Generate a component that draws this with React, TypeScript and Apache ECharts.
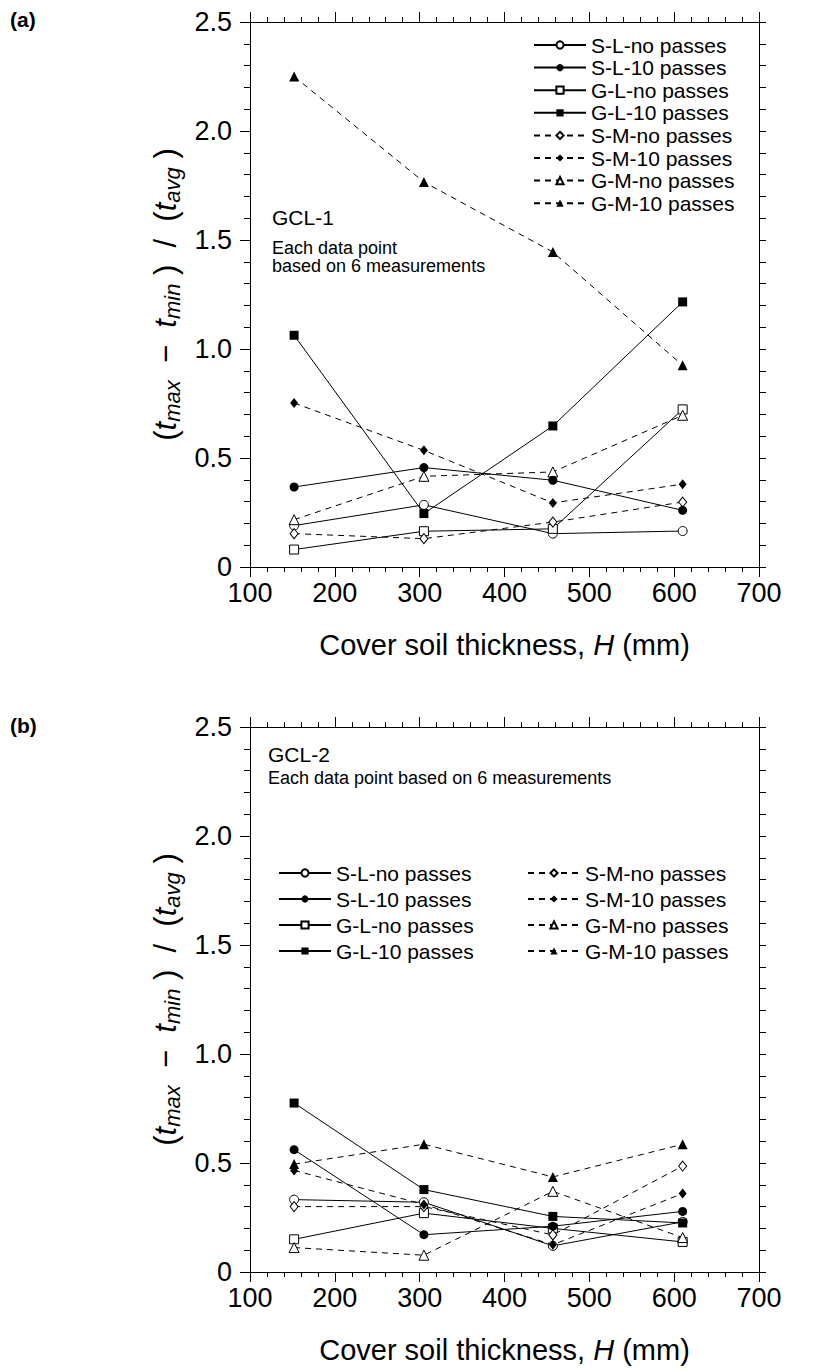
import React, { useEffect, useRef } from 'react';
import * as echarts from 'echarts';

// ---------- data ----------
const thicknessMM = [152, 305, 457, 610];
const xTicks = [100, 200, 300, 400, 500, 600, 700];
const yTicks = [0, 0.5, 1.0, 1.5, 2.0, 2.5];

const seriesNames = [
  'S-L-no passes',
  'S-L-10 passes',
  'G-L-no passes',
  'G-L-10 passes',
  'S-M-no passes',
  'S-M-10 passes',
  'G-M-no passes',
  'G-M-10 passes',
];

// GCL-1 (panel a)
const gcl1SLno = [0.19, 0.285, 0.153, 0.165];
const gcl1SL10 = [0.367, 0.456, 0.398, 0.26];
const gcl1GLno = [0.08, 0.164, 0.175, 0.723];
const gcl1GL10 = [1.063, 0.245, 0.647, 1.216];
const gcl1SMno = [0.153, 0.13, 0.206, 0.298];
const gcl1SM10 = [0.752, 0.535, 0.294, 0.38];
const gcl1GMno = [0.217, 0.416, 0.436, 0.696];
const gcl1GM10 = [2.25, 1.766, 1.445, 0.925];

// GCL-2 (panel b)
const gcl2SLno = [0.332, 0.32, 0.12, 0.23];
const gcl2SL10 = [0.561, 0.171, 0.21, 0.278];
const gcl2GLno = [0.15, 0.27, 0.2, 0.138];
const gcl2GL10 = [0.775, 0.378, 0.255, 0.225];
const gcl2SMno = [0.3, 0.3, 0.17, 0.486];
const gcl2SM10 = [0.466, 0.31, 0.125, 0.36];
const gcl2GMno = [0.112, 0.077, 0.37, 0.158];
const gcl2GM10 = [0.495, 0.586, 0.436, 0.586];

const gcl1Values = [gcl1SLno, gcl1SL10, gcl1GLno, gcl1GL10, gcl1SMno, gcl1SM10, gcl1GMno, gcl1GM10];
const gcl2Values = [gcl2SLno, gcl2SL10, gcl2GLno, gcl2GL10, gcl2SMno, gcl2SM10, gcl2GMno, gcl2GM10];

// ---------- styles ----------
const FONT = "'Liberation Sans', Arial, Helvetica, sans-serif";
const markerStyles = [
  { symbol: 'circle', hollow: true, dashed: false, size: 9 },
  { symbol: 'circle', hollow: false, dashed: false, size: 9 },
  { symbol: 'rect', hollow: true, dashed: false, size: 9 },
  { symbol: 'rect', hollow: false, dashed: false, size: 9 },
  { symbol: 'diamond', hollow: true, dashed: true, size: [8, 10] },
  { symbol: 'diamond', hollow: false, dashed: true, size: [8, 10] },
  { symbol: 'triangle', hollow: true, dashed: true, size: 10 },
  { symbol: 'triangle', hollow: false, dashed: true, size: 10 },
];

function buildSeries(values: number[][], axisIndex: number, prefix: string) {
  return values.map((vals, k) => {
    const st = markerStyles[k];
    return {
      type: 'line',
      id: prefix + k,
      name: seriesNames[k],
      xAxisIndex: axisIndex,
      yAxisIndex: axisIndex,
      data: thicknessMM.map((x, i) => [x, vals[i]]),
      symbol: st.symbol,
      symbolSize: st.size,
      showAllSymbol: true,
      silent: true,
      z: st.hollow ? 3 : 4,
      lineStyle: { color: '#000', width: 1, type: st.dashed ? [6, 5] : 'solid' },
      itemStyle: st.hollow
        ? { color: '#fff', borderColor: '#000', borderWidth: 1 }
        : { color: '#000', borderColor: '#000', borderWidth: 0 },
      emphasis: { disabled: true },
    };
  });
}

const GRID_LEFT = 250;
const GRID_W = 509;
const GRID_H = 545;
const GRID_TOPS = [22, 727];

function xAxes(gridIndex: number) {
  const common = {
    type: 'value',
    gridIndex,
    min: xTicks[0],
    max: xTicks[xTicks.length - 1],
    interval: 100,
    splitLine: { show: false },
    axisLine: { show: true, onZero: false, lineStyle: { color: '#000', width: 1 } },
    axisTick: { show: true, inside: false, length: 10, lineStyle: { color: '#000', width: 1 } },
    minorTick: { show: true, splitNumber: 5, length: 5, lineStyle: { color: '#000', width: 1 } },
  };
  return [
    {
      ...common,
      position: 'bottom',
      axisLabel: { show: true, color: '#000', fontSize: 27, fontFamily: FONT, margin: 12 },
      name: '{a|Cover soil thickness, }{i|H}{a| (mm)}',
      nameLocation: 'middle',
      nameGap: 61,
      nameTextStyle: {
        rich: {
          a: { fontSize: 29, fontFamily: FONT, color: '#000', lineHeight: 34 },
          i: { fontSize: 29, fontFamily: FONT, color: '#000', fontStyle: 'italic', lineHeight: 34 },
        },
      },
    },
    { ...common, position: 'top', axisLabel: { show: false } },
  ];
}

function yAxes(gridIndex: number) {
  const common = {
    type: 'value',
    gridIndex,
    min: yTicks[0],
    max: yTicks[yTicks.length - 1],
    interval: 0.5,
    splitLine: { show: false },
    axisLine: { show: true, onZero: false, lineStyle: { color: '#000', width: 1 } },
    minorTick: { show: true, splitNumber: 5, lineStyle: { color: '#000', width: 1 } },
  };
  return [
    {
      ...common,
      position: 'left',
      axisTick: { show: true, inside: false, length: 10, lineStyle: { color: '#000', width: 1 } },
      minorTick: { ...common.minorTick, length: 6 },
      axisLabel: {
        show: true,
        color: '#000',
        fontSize: 27,
        fontFamily: FONT,
        margin: 18,
        formatter: (v: number) => (v === 0 ? '0' : v.toFixed(1)),
      },
      name: '{n|(}{i|t}{s|max}{n|  −  }{i|t}{s|min}{n| )  /  (}{i|t}{s|avg}{n| )}',
      nameLocation: 'middle',
      nameRotate: 90,
      nameGap: 56,
      nameTextStyle: {
        rich: {
          n: { fontSize: 31, fontFamily: FONT, color: '#000', lineHeight: 36 },
          i: { fontSize: 31, fontFamily: FONT, color: '#000', fontStyle: 'italic', lineHeight: 36 },
          s: {
            fontSize: 22,
            fontFamily: FONT,
            color: '#000',
            fontStyle: 'italic',
            lineHeight: 18,
            verticalAlign: 'bottom',
          },
        },
      },
    },
    {
      ...common,
      position: 'right',
      axisTick: { show: true, inside: false, length: 7, lineStyle: { color: '#000', width: 1 } },
      minorTick: { ...common.minorTick, length: 7 },
      axisLabel: { show: false },
    },
  ];
}

const legendText = { color: '#000', fontSize: 21, fontFamily: FONT, lineHeight: 22 };

function legend(names: string[], left: number, top: number, gap: number) {
  return {
    show: true,
    data: names,
    orient: 'vertical',
    left,
    top,
    padding: 0,
    itemGap: gap,
    itemWidth: 52,
    itemHeight: 9,
    selectedMode: false,
    textStyle: legendText,
  };
}

function textEl(text: string, x: number, y: number, size: number, weight = 'normal') {
  return {
    type: 'text',
    x,
    y,
    silent: true,
    style: {
      text,
      fill: '#000',
      fontSize: size,
      fontFamily: FONT,
      fontWeight: weight,
      align: 'left',
      verticalAlign: 'middle',
    },
  };
}

export default function App() {
  const ref = useRef<HTMLDivElement>(null);
  useEffect(() => {
    if (!ref.current) return;
    const chart = echarts.init(ref.current, undefined, { renderer: 'svg' });
    const option: any = {
      animation: false,
      backgroundColor: '#fff',
      grid: GRID_TOPS.map((top) => ({ left: GRID_LEFT, top, width: GRID_W, height: GRID_H, containLabel: false })),
      xAxis: [...xAxes(0), ...xAxes(1)],
      yAxis: [...yAxes(0), ...yAxes(1)],
      legend: [
        legend(seriesNames, 533, 34, 0.6),
        legend(seriesNames.slice(0, 4), 278, 862, 4),
        legend(seriesNames.slice(4), 527, 862, 4),
      ],
      graphic: [
        textEl('(a)', 10, 19, 21, 'bold'),
        textEl('(b)', 10, 725, 21, 'bold'),
        textEl('GCL-1', 272, 217, 21),
        textEl('Each data point', 272, 248, 18),
        textEl('based on 6 measurements', 272, 266, 18),
        textEl('GCL-2', 268, 754, 21),
        textEl('Each data point based on 6 measurements', 268, 778, 18),
      ],
      series: [...buildSeries(gcl1Values, 0, 'a'), ...buildSeries(gcl2Values, 2, 'b')],
    };
    chart.setOption(option);
    return () => chart.dispose();
  }, []);
  return (
    <div
      ref={ref}
      style={{ position: 'absolute', left: 0, top: 0, width: 825, height: 1370, background: '#fff' }}
    />
  );
}
